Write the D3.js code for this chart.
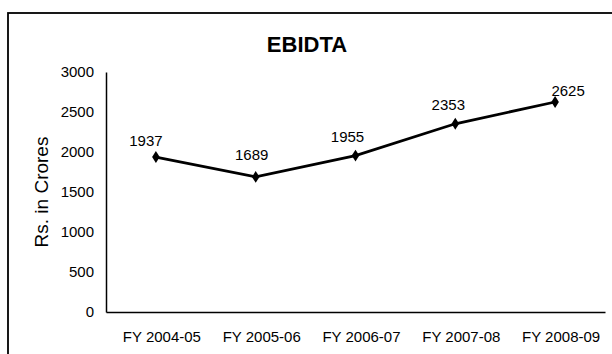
<!DOCTYPE html>
<html><head><meta charset="utf-8">
<script src="https://cdn.jsdelivr.net/npm/d3@7"></script>
<style>body{margin:0;background:#fff}svg{display:block}</style>
</head><body>
<svg id="c" width="612" height="354"></svg>
<script>
const categories = ["FY 2004-05","FY 2005-06","FY 2006-07","FY 2007-08","FY 2008-09"];
const values = [1937,1689,1955,2353,2625];
const yTicks = [0,500,1000,1500,2000,2500,3000];
const title = "EBIDTA";
const yTitle = "Rs. in Crores";

const svg = d3.select("#c");
const font = "Liberation Sans, Arial, sans-serif";
svg.append("rect").attr("x",8).attr("y",13).attr("width",620).attr("height",360)
  .attr("fill","#fff").attr("stroke","#000").attr("stroke-width",1.8);

const m = {l:106, r:605, t:72, b:312};
const x = d3.scaleBand().domain(categories).range([m.l,m.r]);
const y = d3.scaleLinear().domain([0,3000]).range([m.b,m.t]);

svg.append("text").attr("x",307).attr("y",52).attr("text-anchor","middle")
  .attr("font-family",font).attr("font-weight","bold").attr("font-size",22).text(title);

const ya = svg.append("g").attr("transform",`translate(${m.l},0)`)
  .call(d3.axisLeft(y).tickValues(yTicks).tickSize(0).tickPadding(12).tickFormat(d3.format("d")));
ya.select(".domain").attr("stroke","#000").attr("stroke-width",1.5);
ya.selectAll("text").attr("font-family",font).attr("font-size",15).attr("fill","#000");

const xa = svg.append("g").attr("transform",`translate(0,${m.b})`)
  .call(d3.axisBottom(x).tickSize(0).tickPadding(19));
xa.select(".domain").attr("stroke","#000").attr("stroke-width",1.5);
xa.selectAll("text").attr("font-family",font).attr("font-size",15).attr("fill","#000").attr("dx",6);

svg.append("text").attr("transform",`translate(48,192) rotate(-90)`).attr("text-anchor","middle")
  .attr("font-family",font).attr("font-size",19).text(yTitle);

const cx = d => x(d) + x.bandwidth()/2;
const line = d3.line().x((d,i)=>cx(categories[i])).y(d=>y(d));
svg.append("path").datum(values).attr("d",line).attr("fill","none")
  .attr("stroke","#000").attr("stroke-width",2.8);

svg.selectAll(".mk").data(values).join("path")
  .attr("d",d3.symbol(d3.symbolDiamond, 50)())
  .attr("transform",(d,i)=>`translate(${cx(categories[i])},${y(d)}) scale(1,0.9)`).attr("fill","#000");

// label nudges (placement only)
const nudge = [[-10,-11],[-4,-17],[-8,-14],[-7,-14],[13,-6]];
svg.selectAll(".lb").data(values).join("text")
  .attr("x",(d,i)=>cx(categories[i]) + nudge[i][0])
  .attr("y",(d,i)=>y(d) + nudge[i][1]).attr("text-anchor","middle")
  .attr("font-family",font).attr("font-size",15).text(d=>d);
</script>
</body></html>
